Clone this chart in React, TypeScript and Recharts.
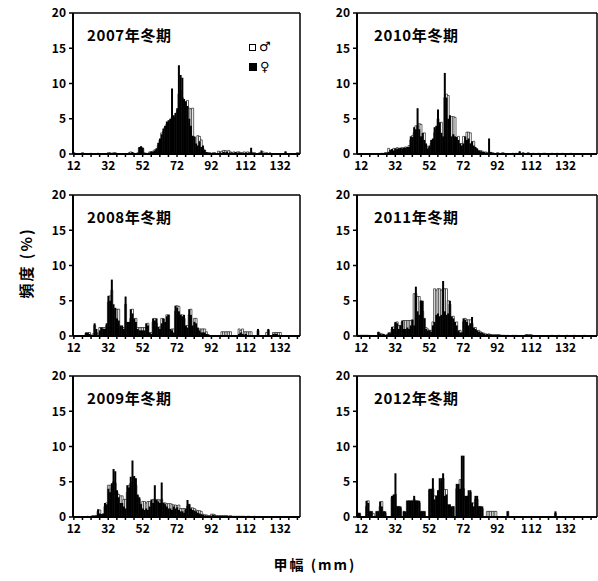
import React from 'react';
import { ComposedChart, Bar, XAxis, YAxis, CartesianGrid, Legend } from 'recharts';

// every series below starts at this carapace width (mm), one value per 1 mm class
const START_MM = 10;
const LEFT_RANGE = [12, 143];
const RIGHT_RANGE = [10, 150];
const X_LABELS = [12, 32, 52, 72, 92, 112, 132];
const Y_TICKS = [0, 5, 10, 15, 20];

const MALE_2007 = [
  0, 0, 0.2, 0, 0, 0, 0, 0.2, 0, 0,
  0, 0, 0.1, 0, 0, 0, 0.1, 0, 0, 0,
  0, 0, 0.2, 0, 0.1, 0, 0.2, 0, 0, 0,
  0, 0, 0, 0, 0, 0.3, 0, 0.1, 0, 0,
  0.8, 1.0, 0.8, 0, 0.1, 0, 0.3, 0.2, 0.4, 0.6,
  0.6, 1.2, 2.0, 3.0, 3.2, 3.8, 4.2, 4.5, 4.8, 5.2,
  5.0, 5.2, 6.0, 8.5, 9.0, 8.0, 7.0, 7.2, 7.6, 6.5,
  6.4, 6.5, 2.4, 1.2, 2.6, 2.5, 2.0, 0.8, 0.5, 0.2,
  0.1, 0.2, 0, 0.2, 0, 0, 0.4, 0.3, 0.4, 0.5,
  0.5, 0.4, 0.5, 0.3, 0.2, 0.3, 0.2, 0.3, 0.3, 0.2,
  0.2, 0.3, 0, 0.3, 0.2, 0.3, 0, 0.2, 0, 0,
  0.2, 0, 0.3, 0, 0.2, 0, 0, 0, 0, 0,
  0, 0, 0, 0, 0, 0.2, 0, 0, 0, 0,
  0, 0, 0.2, 0,
];
const FEMALE_2007 = [
  0, 0, 0, 0, 0, 0, 0, 0.1, 0, 0,
  0, 0, 0, 0, 0, 0, 0, 0, 0, 0,
  0, 0, 0, 0.2, 0, 0.2, 0, 0, 0, 0,
  0, 0, 0, 0, 0.2, 0, 0.3, 0, 0, 0.2,
  1.0, 1.1, 0.9, 0.2, 0, 0, 0.2, 0.4, 0.3, 0.5,
  0.8, 1.6, 2.2, 2.8, 3.6, 4.0, 4.6, 4.8, 5.0, 9.3,
  5.5, 5.8, 6.5, 12.6, 11.2, 10.8, 7.8, 7.5, 6.8, 5.0,
  4.0, 2.6, 2.5, 1.5, 1.2, 1.8, 1.0, 1.2, 0.6, 0.3,
  0.2, 0, 0.1, 0, 0.2, 0, 0, 0.2, 0, 0.3,
  0.2, 0.3, 0, 0.2, 0, 0, 0.3, 0, 0.2, 0,
  0, 0, 0.2, 0, 0, 0.9, 0.2, 0, 0, 0,
  0, 0.5, 0, 0, 0, 0, 0.2, 0, 0, 0,
  0, 0, 0, 0, 0, 0.4,
];

const MALE_2010 = [
  0, 0, 0, 0, 0, 0, 0, 0, 0, 0,
  0, 0, 0, 0, 0.1, 0, 0.2, 0.2, 0.8, 0.5,
  0.6, 0.8, 0.7, 0.9, 0.8, 0.6, 0.9, 0.8, 1.0, 0.9,
  1.2, 2.0, 2.6, 3.0, 4.0, 4.0, 4.3, 4.2, 2.5, 3.0,
  1.2, 1.0, 0.9, 1.5, 2.0, 3.0, 3.5, 5.0, 3.5, 4.5,
  2.0, 8.0, 8.5, 8.3, 4.0, 5.3, 5.3, 5.2, 2.0, 2.5,
  1.4, 1.5, 2.5, 1.8, 3.1, 3.1, 3.0, 1.5, 1.8, 0.8,
  0.6, 0.4, 0.5, 0.4, 0.2, 0.3, 0.1, 0.3, 0.2, 0.2,
  0.1, 0, 0.2, 0.1, 0, 0.2, 0.1, 0, 0, 0,
  0, 0.1, 0, 0.1, 0, 0.2, 0, 0.2, 0, 0,
  0.2, 0, 0, 0.1, 0, 0, 0.1, 0, 0, 0.1,
  0.1, 0, 0, 0, 0.1, 0, 0, 0.1, 0, 0,
  0.1, 0, 0, 0, 0, 0.1, 0, 0, 0, 0,
];
const FEMALE_2010 = [
  0, 0, 0, 0, 0, 0, 0, 0, 0, 0,
  0, 0, 0, 0, 0, 0.1, 0.1, 0, 0.3, 0.6,
  0.7, 0.5, 0.8, 0.7, 0.8, 0.9, 0.8, 0.9, 0.9, 1.0,
  1.0, 2.5, 2.4, 3.8, 3.5, 6.5, 3.5, 2.5, 3.0, 2.0,
  1.5, 0.8, 1.2, 2.0, 2.2, 3.8, 4.0, 6.3, 4.5, 3.0,
  2.5, 11.5, 8.0, 5.0, 5.5, 2.5, 2.8, 2.5, 2.4, 2.0,
  1.5, 1.2, 1.5, 2.5, 2.0, 2.2, 1.5, 1.8, 1.2, 1.0,
  0.8, 0.5, 0.4, 0.3, 0.3, 0.2, 0.2, 2.2, 0.3, 0.1,
  0, 0.1, 0, 0, 0.1, 0, 0, 0, 0, 0,
  0, 0, 0, 0, 0, 0.4, 0, 0, 0, 0,
];

const MALE_2008 = [
  0, 0, 0, 0, 0, 0, 0, 0, 0, 0.4,
  0.4, 0.5, 0, 0.3, 1.5, 0.5, 0.3, 1.2, 1.2, 1.2,
  1.2, 1.5, 4.8, 5.7, 6.5, 3.8, 3.0, 3.8, 3.8, 1.2,
  1.2, 1.2, 4.5, 1.8, 1.5, 2.5, 3.8, 2.0, 2.5, 1.2,
  1.2, 1.2, 1.2, 1.2, 1.2, 1.8, 0.4, 0.5, 2.0, 2.5,
  1.8, 1.2, 1.3, 2.5, 2.4, 1.5, 3.0, 3.0, 0.8, 1.0,
  1.0, 3.5, 4.3, 4.2, 3.0, 3.0, 2.5, 1.2, 1.5, 3.0,
  3.8, 1.2, 2.5, 2.5, 1.0, 1.0, 1.0, 1.0, 1.0, 0.6,
  0.2, 0, 0, 0, 0, 0, 0, 0, 0.6, 0.6,
  0.6, 0.6, 0.6, 0.6, 0, 0, 0, 0, 1.0, 0.8,
  1.0, 0.6, 0.6, 0.6, 0.6, 0.6, 0, 0, 0, 0.8,
  0, 0, 0, 0, 0.5, 0.8, 0, 0, 0.5, 0.5,
  0.5, 0.5, 0.5,
];
const FEMALE_2008 = [
  0, 0, 0, 0, 0, 0, 0, 0, 0, 0.5,
  0.5, 0.3, 0, 0, 1.8, 1.0, 0, 0.8, 1.2, 1.0,
  1.0, 1.8, 5.7, 5.0, 8.0, 4.5, 4.0, 2.5, 2.2, 1.5,
  1.5, 1.0, 5.6, 2.0, 2.0, 3.8, 3.2, 2.5, 2.0, 1.0,
  0.8, 0.8, 0.8, 0.8, 1.8, 1.5, 0.5, 0.3, 2.5, 2.2,
  2.5, 1.3, 1.0, 1.8, 2.5, 2.0, 2.8, 3.0, 1.0, 0.8,
  0.5, 4.3, 4.0, 3.5, 3.0, 2.8, 3.0, 1.5, 1.2, 3.8,
  3.0, 1.5, 2.0, 1.8, 1.2, 0.8, 0.5, 0.5, 0.5, 0.3,
  0.2, 0, 0, 0, 0, 0, 0, 0, 0, 0,
  0, 0, 0, 0, 0, 0, 0, 0, 0.3, 0.5,
  0.3, 0.2, 0.3, 0, 0, 0, 0, 0, 0, 1.0,
  0, 0, 0, 0, 0, 1.0, 0, 0, 0.3, 0.3,
  0.3,
];

const MALE_2011 = [
  0.1, 0.1, 0.1, 0.1, 0.1, 0.1, 0.1, 0, 0, 0,
  0, 0, 0.5, 0.4, 0.3, 0.2, 0.1, 0.2, 0.3, 0.5,
  1.0, 1.3, 1.8, 2.0, 1.5, 1.5, 2.0, 2.2, 2.2, 2.2,
  2.2, 2.2, 2.3, 6.0, 6.0, 5.6, 5.6, 5.0, 3.5, 2.5,
  1.2, 1.0, 0.8, 0.8, 2.0, 6.7, 6.5, 6.7, 6.7, 6.5,
  6.7, 6.7, 6.7, 5.0, 4.5, 2.5, 2.8, 1.8, 2.0, 0.6,
  0.8, 0.4, 2.0, 2.5, 2.3, 2.3, 2.3, 1.8, 1.0, 1.2,
  0.6, 0.8, 0.6, 0.4, 0.4, 0.3, 0.2, 0.3, 0.2, 0.1,
  0.2, 0.1, 0.2, 0.2, 0.1, 0.1, 0.1, 0, 0.1, 0,
  0, 0.1, 0, 0.1, 0, 0, 0, 0, 0.1, 0.2,
  0.1, 0.2, 0.1, 0, 0, 0, 0, 0, 0, 0,
  0, 0, 0, 0, 0.1, 0, 0, 0, 0.1, 0,
  0, 0, 0, 0.1, 0, 0, 0, 0.1, 0, 0,
  0, 0, 0, 0.1, 0, 0, 0, 0, 0, 0,
];
const FEMALE_2011 = [
  0.1, 0.1, 0.1, 0.1, 0, 0.1, 0, 0, 0, 0,
  0, 0, 0.6, 0.3, 0.2, 0.3, 0, 0, 0.5, 0.4,
  1.3, 1.0, 2.0, 1.8, 1.0, 1.5, 2.2, 1.0, 1.0, 1.2,
  1.0, 1.5, 2.3, 1.5, 7.0, 3.5, 3.0, 5.0, 5.0, 2.5,
  1.0, 0.8, 0.8, 0.6, 1.5, 2.0, 3.0, 3.2, 2.8, 3.0,
  7.8, 3.5, 3.0, 3.2, 5.0, 2.8, 2.5, 2.0, 1.5, 0.8,
  0.5, 0.5, 2.5, 2.3, 2.0, 1.5, 1.8, 2.7, 1.2, 1.0,
  0.8, 0.6, 0.5, 0.5, 0.3, 0.2, 0.3, 0.2, 0.2, 0.2,
  0.1, 0.2, 0.1, 0.1, 0.1, 0.1, 0, 0.1, 0.1, 0.1,
  0.1, 0, 0.1, 0, 0, 0, 0, 0, 0, 0.2,
  0.2, 0.1, 0.2, 0, 0, 0, 0, 0, 0, 0,
  0, 0, 0, 0.1, 0, 0, 0, 0, 0, 0,
  0, 0, 0, 0, 0.1,
];

const MALE_2009 = [
  0, 0, 0, 0, 0, 0, 0, 0, 0, 0,
  0.1, 0, 0.1, 0.2, 0.1, 0.2, 0.8, 1.0, 0.3, 0.4,
  1.5, 2.0, 4.5, 4.5, 4.2, 5.0, 4.8, 3.5, 3.2, 3.0,
  3.0, 2.5, 2.5, 3.5, 4.5, 4.8, 5.0, 5.5, 4.5, 3.0,
  2.5, 1.8, 2.2, 2.2, 2.0, 2.2, 2.2, 2.0, 2.5, 2.5,
  2.3, 2.5, 2.4, 2.5, 2.0, 2.0, 1.9, 1.9, 1.9, 1.8,
  1.7, 1.7, 1.6, 1.7, 1.2, 1.2, 1.2, 1.0, 1.5, 1.8,
  1.3, 1.3, 1.2, 1.0, 0.9, 0.9, 0.8, 0.4, 0.3, 0.3,
  0.2, 0.2, 0.4, 0.4, 0.3, 0.2, 0.2, 0.2, 0.2, 0.2,
  0.2, 0.2, 0.1, 0.2, 0.1, 0.1, 0.1, 0.1, 0.1, 0.1,
  0.1, 0.1, 0, 0.1, 0.1, 0, 0, 0.1, 0, 0,
];
const FEMALE_2009 = [
  0, 0, 0, 0, 0, 0, 0, 0, 0, 0,
  0, 0.1, 0.1, 0.1, 0.2, 0.2, 1.1, 0.5, 0.4, 0.5,
  2.0, 1.8, 4.0, 3.5, 4.8, 6.8, 6.5, 3.8, 2.8, 2.0,
  2.0, 1.5, 1.2, 4.5, 4.2, 5.7, 8.0, 5.8, 5.5, 3.2,
  2.8, 1.8, 1.2, 1.0, 1.2, 1.0, 1.5, 2.5, 2.0, 4.5,
  2.5, 2.2, 2.0, 4.9, 2.0, 1.8, 1.5, 1.2, 1.2, 1.0,
  1.5, 1.2, 1.4, 1.0, 0.8, 0.8, 0.6, 1.2, 2.4, 1.8,
  1.2, 1.0, 0.9, 0.8, 0.6, 0.5, 0.4, 0.3, 0.2, 0.2,
  0.1, 0.1, 0.2, 0.3, 0.2, 0.1, 0.1, 0.1, 0, 0.1,
  0.1, 0, 0.1,
];

const MALE_2012 = [
  0.5, 0.4, 0, 0, 0, 1.5, 2.3, 0.8, 0.8, 0.5,
  0, 0.8, 0.8, 1.5, 2.2, 0.8, 0.5, 0, 0, 0,
  2.8, 3.0, 3.2, 1.5, 1.5, 1.2, 0, 0.8, 0.5, 2.3,
  2.3, 2.3, 2.3, 2.5, 2.3, 2.3, 2.0, 0.8, 0.8, 0.8,
  0, 0, 3.8, 3.8, 4.0, 3.0, 3.0, 3.0, 3.8, 5.0,
  5.5, 3.9, 3.9, 1.5, 1.5, 1.2, 1.5, 0, 4.0, 4.5,
  5.3, 5.3, 4.0, 2.5, 2.8, 3.0, 3.5, 2.0, 2.0, 2.5,
  2.5, 1.5, 1.5, 1.2, 0, 0, 0.8, 0.8, 0.8, 0.8,
  0.8, 0.8, 0, 0, 0, 0, 0, 0, 0.8, 0,
  0, 0, 0, 0, 0, 0, 0, 0, 0, 0,
  0, 0, 0, 0, 0, 0, 0, 0, 0, 0,
  0, 0, 0, 0, 0, 0, 0.5,
];
const FEMALE_2012 = [
  0.6, 0.6, 0, 0, 0, 2.3, 2.0, 0.8, 0.8, 0,
  0, 0.8, 0.8, 2.2, 1.5, 0.8, 0.8, 0, 0, 0,
  3.0, 3.2, 6.2, 1.5, 1.5, 1.5, 0, 0.8, 0.8, 2.3,
  2.3, 2.3, 2.3, 3.0, 2.3, 2.3, 2.3, 0.8, 0.8, 0.8,
  0, 0, 4.0, 4.0, 5.5, 2.5, 3.0, 3.8, 5.5, 5.5,
  6.2, 3.0, 3.2, 1.8, 1.8, 1.5, 1.5, 0, 4.7, 4.7,
  4.0, 8.7, 8.7, 3.0, 3.0, 3.8, 3.8, 2.0, 1.5, 3.0,
  3.0, 1.5, 1.5, 1.5, 0, 0, 0, 0, 0, 0,
  0, 0, 0, 0, 0, 0, 0, 0, 0.8, 0,
  0, 0, 0, 0, 0, 0, 0, 0, 0, 0,
  0, 0, 0, 0, 0, 0, 0, 0, 0, 0,
  0, 0, 0, 0, 0, 0, 0.8,
];

const FONT = '"Noto Sans CJK JP", "DejaVu Sans", sans-serif';

function buildRows(male: number[], female: number[], range: number[]) {
  const rows = [];
  for (let mm = range[0]; mm <= range[1]; mm++) {
    rows.push({
      mm,
      male: male[mm - START_MM] ?? 0,
      female: female[mm - START_MM] ?? 0,
    });
  }
  return rows;
}

// tick marks every 5 mm from 12; only every 20 mm gets a label
function minorTicks(range: number[]) {
  const out = [];
  for (let v = 12; v <= range[1]; v += 5) out.push(v);
  return out;
}

const SexLegend = () => (
  <div style={{ fontFamily: '"DejaVu Sans", sans-serif', fontSize: 13, fontWeight: 700, lineHeight: '20px', color: '#000' }}>
    <div style={{ display: 'flex', alignItems: 'center', gap: 3 }}>
      <span style={{ display: 'inline-block', width: 5, height: 5, border: '1.5px solid #000', background: '#fff' }} />
      <span>♂</span>
    </div>
    <div style={{ display: 'flex', alignItems: 'center', gap: 3 }}>
      <span style={{ display: 'inline-block', width: 8, height: 8, background: '#000' }} />
      <span>♀</span>
    </div>
  </div>
);

interface PanelProps {
  title: string;
  male: number[];
  female: number[];
  left: number;
  top: number;
  right?: boolean;
  legend?: boolean;
}

const Panel = ({ title, male, female, left, top, right, legend }: PanelProps) => {
  const range = right ? RIGHT_RANGE : LEFT_RANGE;
  const data = buildRows(male, female, range);
  const width = right ? 291 : 279;
  return (
    <div style={{ position: 'absolute', left, top }}>
      <ComposedChart width={width} height={179} data={data}
        margin={{ top: 13, right: right ? 1 : 2, left: 0, bottom: 0 }}
        barCategoryGap={0} barGap={0}>
        <CartesianGrid stroke="#000" strokeWidth={1.5}
          horizontalCoordinatesGenerator={({ offset }: any) => [offset.top]}
          verticalCoordinatesGenerator={({ offset }: any) => [offset.left + offset.width]} />
        {/* second category axis only lets the female bars sit on top of the male ones */}
        <XAxis xAxisId="f" dataKey="mm" orientation="top" height={0} hide />
        <XAxis xAxisId="m" dataKey="mm" height={25}
          ticks={minorTicks(range)} interval={0}
          tickFormatter={(v: number) => (X_LABELS.includes(v) ? String(v) : '')}
          tick={{ fill: '#000', fontSize: 12, fontWeight: 700, fontFamily: FONT }}
          tickLine={{ stroke: '#000', strokeWidth: 1.5 }} tickSize={3} tickMargin={4}
          axisLine={{ stroke: '#000', strokeWidth: 2 }} />
        <YAxis domain={[0, 20]} ticks={Y_TICKS} interval={0} width={50} allowDataOverflow
          tick={{ fill: '#000', fontSize: 12, fontWeight: 700, fontFamily: FONT }}
          tickLine={{ stroke: '#000', strokeWidth: 1.5 }} tickSize={4} tickMargin={3}
          axisLine={{ stroke: '#000', strokeWidth: 2 }} />
        {legend && (
          <Legend layout="vertical" align="center" verticalAlign="middle"
            wrapperStyle={{ left: 226, top: 37, width: 'auto' }} content={<SexLegend />} />
        )}
        <Bar xAxisId="m" dataKey="male" name="♂" fill="#fff" stroke="#000" strokeWidth={0.6} isAnimationActive={false} />
        <Bar xAxisId="f" dataKey="female" name="♀" fill="#000" isAnimationActive={false} />
      </ComposedChart>
      <div style={{ position: 'absolute', left: right ? 67 : 64, top: 26, fontFamily: FONT, fontSize: 15, fontWeight: 700, letterSpacing: 0.6, lineHeight: '17px', whiteSpace: 'nowrap' }}>
        {title}
      </div>
    </div>
  );
};

export default function App() {
  return (
    <div style={{ position: 'absolute', left: 0, top: 0, width: 598, height: 581, background: '#fff', overflow: 'hidden' }}>
      <Panel title="2007年冬期" male={MALE_2007} female={FEMALE_2007} left={23} top={0} legend />
      <Panel title="2010年冬期" male={MALE_2010} female={FEMALE_2010} left={307} top={0} right />
      <Panel title="2008年冬期" male={MALE_2008} female={FEMALE_2008} left={23} top={182} />
      <Panel title="2011年冬期" male={MALE_2011} female={FEMALE_2011} left={307} top={182} right />
      <Panel title="2009年冬期" male={MALE_2009} female={FEMALE_2009} left={23} top={363} />
      <Panel title="2012年冬期" male={MALE_2012} female={FEMALE_2012} left={307} top={363} right />
      <div style={{ position: 'absolute', left: 25, top: 263, transform: 'translate(-50%, -50%) rotate(-90deg)', fontFamily: FONT, fontSize: 15, fontWeight: 700, letterSpacing: 2, whiteSpace: 'nowrap' }}>
        頻度 (%)
      </div>
      <div style={{ position: 'absolute', left: 315, top: 564, transform: 'translate(-50%, -50%)', fontFamily: FONT, fontSize: 14, fontWeight: 700, letterSpacing: 2, whiteSpace: 'nowrap' }}>
        甲幅 (mm)
      </div>
    </div>
  );
}
